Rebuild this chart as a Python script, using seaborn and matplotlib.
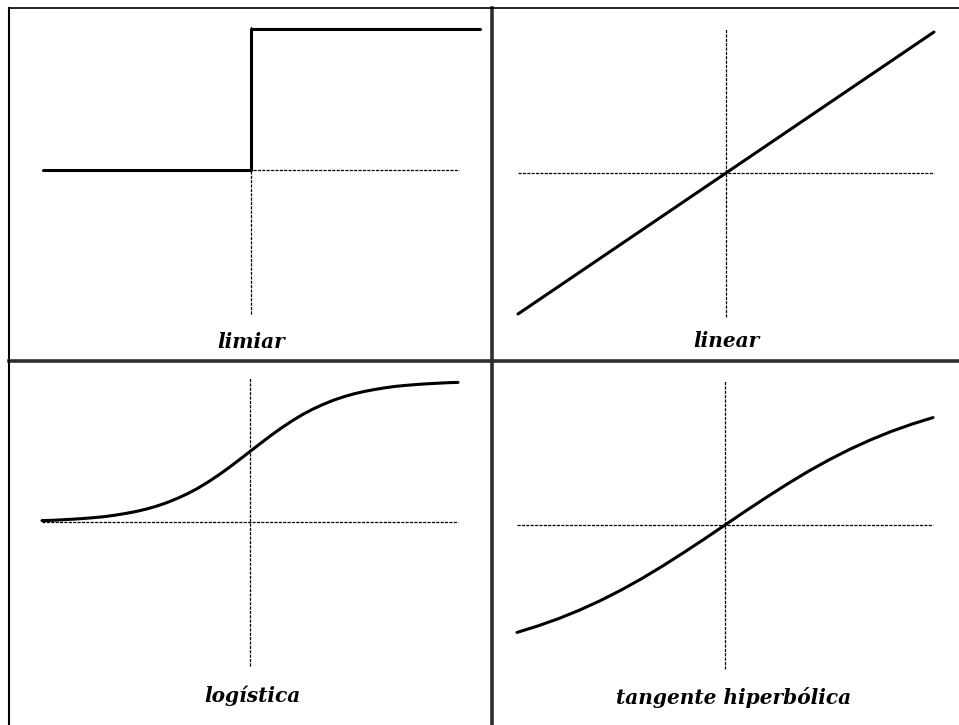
import matplotlib
matplotlib.use("Agg")
import matplotlib.pyplot as plt
import seaborn as sns
import pandas as pd

# ---- data -------------------------------------------------------------
titles = ["limiar", "linear", "logística", "tangente hiperbólica"]

step_x = [-1.0, 0.0, 0.0, 1.10]
step_y = [0.0, 0.0, 1.0, 1.0]

linear_x = [-1.0, 1.0]
linear_y = [-1.0, 1.0]

logistic_x = [-1.00, -0.95, -0.90, -0.85, -0.80, -0.75, -0.70, -0.65, -0.60, -0.55,
              -0.50, -0.45, -0.40, -0.35, -0.30, -0.25, -0.20, -0.15, -0.10, -0.05,
              0.00, 0.05, 0.10, 0.15, 0.20, 0.25, 0.30, 0.35, 0.40, 0.45,
              0.50, 0.55, 0.60, 0.65, 0.70, 0.75, 0.80, 0.85, 0.90, 0.95, 1.00]
logistic_y = [0.010, 0.012, 0.016, 0.020, 0.025, 0.031, 0.038, 0.048, 0.060, 0.074,
              0.091, 0.112, 0.137, 0.167, 0.201, 0.240, 0.285, 0.334, 0.387, 0.443,
              0.500, 0.557, 0.613, 0.666, 0.715, 0.760, 0.799, 0.833, 0.863, 0.888,
              0.909, 0.926, 0.940, 0.952, 0.962, 0.969, 0.975, 0.980, 0.984, 0.988, 0.990]

tanh_x = [-1.0, -0.9, -0.8, -0.7, -0.6, -0.5, -0.4, -0.3, -0.2, -0.1, 0.0,
          0.1, 0.2, 0.3, 0.4, 0.5, 0.6, 0.7, 0.8, 0.9, 1.0]
tanh_y = [-0.762, -0.716, -0.664, -0.604, -0.537, -0.462, -0.380, -0.291, -0.197, -0.100, 0.0,
          0.100, 0.197, 0.291, 0.380, 0.462, 0.537, 0.604, 0.664, 0.716, 0.762]

curves = [(step_x, step_y), (linear_x, linear_y),
          (logistic_x, logistic_y), (tanh_x, tanh_y)]

# ---- layout (pixels of a 959 x 725 canvas) ----------------------------
W, H = 959, 725
SX, SY = 208.0, 141.0          # pixels per data unit
boxes = [(9, 491.5, 8, 361), (491.5, 959, 8, 361),
         (9, 491.5, 361, 725), (491.5, 959, 361, 725)]
origins = [(251, 170), (726, 173), (250, 522), (725, 525)]
label_pos = [(0.0, -1.22), (0.0, -1.19), (0.01, -1.23), (0.04, -1.22)]

sns.set_style("white")
fig = plt.figure(figsize=(W / 100, H / 100), dpi=100)
fig.patch.set_facecolor("white")

border = "black"
divider = "#2e2e2e"

axes = []
for i, ((x0, x1, y0, y1), (ox, oy)) in enumerate(zip(boxes, origins)):
    ax = fig.add_axes([x0 / W, 1 - y1 / H, (x1 - x0) / W, (y1 - y0) / H])
    ax.set_facecolor("none")
    ax.set_xlim((x0 - ox) / SX, (x1 - ox) / SX)
    ax.set_ylim((oy - y1) / SY, (oy - y0) / SY)
    ax.set_xticks([])
    ax.set_yticks([])
    for s in ax.spines.values():
        s.set_visible(False)
    axes.append(ax)

# frame: outer top/left edges black, inner dividers dark grey
for ax in axes[:2]:
    ax.spines["top"].set_visible(True)
    ax.spines["top"].set_color(border)
    ax.spines["top"].set_linewidth(1.2)
    ax.spines["bottom"].set_visible(True)
    ax.spines["bottom"].set_color(divider)
    ax.spines["bottom"].set_linewidth(2.6)
for ax in (axes[0], axes[2]):
    ax.spines["left"].set_visible(True)
    ax.spines["left"].set_color(border)
    ax.spines["left"].set_linewidth(1.5)
    ax.spines["right"].set_visible(True)
    ax.spines["right"].set_color(divider)
    ax.spines["right"].set_linewidth(2.6)

for ax, (cx, cy), title, (lx, ly) in zip(axes, curves, titles, label_pos):
    # dashed reference axes
    ax.plot([-1.0, 1.0], [0, 0], color="black", lw=0.9,
            linestyle=(0, (2.5, 1)), zorder=1)
    ax.plot([0, 0], [-1.02, 1.02], color="black", lw=0.9,
            linestyle=(0, (2.5, 1)), zorder=1)
    df = pd.DataFrame({"x": cx, "y": cy})
    sns.lineplot(data=df, x="x", y="y", ax=ax, color="black", lw=2.2,
                 sort=False, estimator=None, zorder=3)
    ax.set_xlabel("")
    ax.set_ylabel("")
    ax.text(lx, ly, title, ha="center", va="center",
            family="DejaVu Serif", fontweight="bold", style="italic",
            fontsize=14.5, color="black")

fig.savefig("out.png", dpi=100, facecolor="white")
